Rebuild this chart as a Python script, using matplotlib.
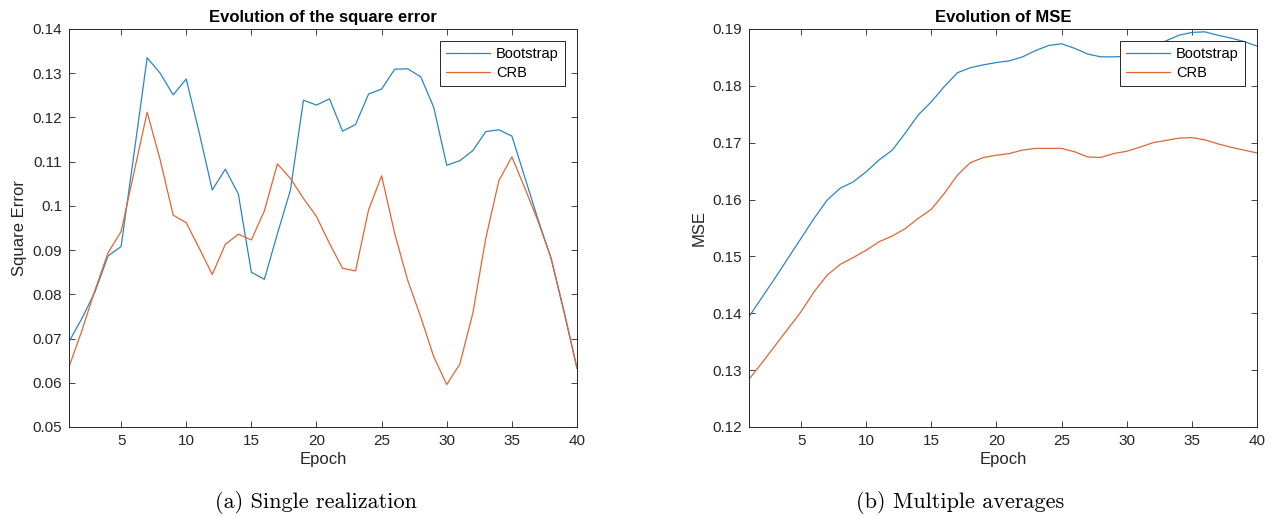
import matplotlib
matplotlib.use("Agg")
import matplotlib.pyplot as plt
from matplotlib.ticker import FormatStrFormatter

epochs = list(range(1, 41))

sq_boot = [0.0693, 0.0746, 0.0806, 0.0887, 0.0908, 0.1120, 0.1335, 0.1300, 0.1251, 0.1287,
           0.1165, 0.1036, 0.1083, 0.1027, 0.0850, 0.0834, 0.0937, 0.1036, 0.1239, 0.1228,
           0.1242, 0.1169, 0.1184, 0.1253, 0.1264, 0.1309, 0.1310, 0.1292, 0.1223, 0.1092,
           0.1102, 0.1125, 0.1168, 0.1172, 0.1158, 0.1064, 0.0970, 0.0882, 0.0760, 0.0633]
sq_crb = [0.0636, 0.0719, 0.0810, 0.0894, 0.0942, 0.1077, 0.1212, 0.1104, 0.0979, 0.0962,
          0.0904, 0.0845, 0.0913, 0.0936, 0.0923, 0.0989, 0.1095, 0.1062, 0.1017, 0.0976,
          0.0915, 0.0859, 0.0853, 0.0991, 0.1068, 0.0938, 0.0832, 0.0749, 0.0659, 0.0596,
          0.0642, 0.0757, 0.0927, 0.1057, 0.1111, 0.1040, 0.0966, 0.0883, 0.0763, 0.0633]

mse_boot = [0.1394, 0.1428, 0.1462, 0.1497, 0.1532, 0.1567, 0.1599, 0.1620, 0.1631, 0.1649,
            0.1670, 0.1687, 0.1717, 0.1749, 0.1772, 0.1799, 0.1823, 0.1832, 0.1837, 0.1841,
            0.1844, 0.1851, 0.1862, 0.1871, 0.1874, 0.1866, 0.1856, 0.1851, 0.1851, 0.1852,
            0.1858, 0.1868, 0.1879, 0.1889, 0.1894, 0.1895, 0.1889, 0.1884, 0.1878, 0.1870]
mse_crb = [0.1284, 0.1313, 0.1343, 0.1373, 0.1403, 0.1438, 0.1467, 0.1486, 0.1498, 0.1511,
           0.1526, 0.1536, 0.1549, 0.1567, 0.1583, 0.1611, 0.1643, 0.1665, 0.1674, 0.1678,
           0.1681, 0.1687, 0.1690, 0.1690, 0.1690, 0.1684, 0.1675, 0.1674, 0.1681, 0.1685,
           0.1692, 0.1700, 0.1704, 0.1708, 0.1709, 0.1705, 0.1698, 0.1692, 0.1687, 0.1682]

labels = ["Bootstrap", "CRB"]
colors = ["#2a86c4", "#e06634"]

plt.rcParams['font.family'] = ['Liberation Sans', 'DejaVu Sans']
dark = "#262626"

fig = plt.figure(figsize=(12.76, 5.16), dpi=100)
ax1 = fig.add_axes([69 / 1276, 89 / 516, 508 / 1276, 398 / 516])
ax2 = fig.add_axes([749 / 1276, 89 / 516, 508 / 1276, 398 / 516])


def style(ax, ylim, yticks, title, ylabel):
    ax.set_xlim(1, 40)
    ax.set_ylim(*ylim)
    ax.set_xticks(range(5, 41, 5))
    ax.set_yticks(yticks)
    ax.yaxis.set_major_formatter(FormatStrFormatter('%g'))
    ax.tick_params(direction='in', length=4, width=0.6, top=True, right=True,
                   labelsize=11, colors=dark, pad=5)
    for s in ax.spines.values():
        s.set_color(dark)
        s.set_linewidth(0.7)
    ax.set_title(title, fontsize=12, fontweight='bold', color='black', pad=5)
    ax.set_xlabel("Epoch", fontsize=12, color=dark, labelpad=3)
    ax.set_ylabel(ylabel, fontsize=12, color=dark, labelpad=4)
    leg = ax.legend(loc='upper right', fontsize=10.5, fancybox=False, framealpha=1,
                    edgecolor=dark, borderaxespad=0.8, handlelength=3.0,
                    borderpad=0.45, labelspacing=0.3, handletextpad=0.4)
    leg.get_frame().set_linewidth(0.7)


ax1.plot(epochs, sq_boot, color=colors[0], lw=0.9, label=labels[0])
ax1.plot(epochs, sq_crb, color=colors[1], lw=0.9, label=labels[1])
style(ax1, (0.05, 0.14), [0.05 + 0.01 * i for i in range(10)],
      "Evolution of the square error", "Square Error")

ax2.plot(epochs, mse_boot, color=colors[0], lw=0.9, label=labels[0])
ax2.plot(epochs, mse_crb, color=colors[1], lw=0.9, label=labels[1])
style(ax2, (0.12, 0.19), [0.12 + 0.01 * i for i in range(8)],
      "Evolution of MSE", "MSE")

fig.text(316 / 1276, 1 - 503 / 516, "(a) Single realization", fontfamily='cmr10',
         fontsize=16, ha='center', va='center')
fig.text(960 / 1276, 1 - 503 / 516, "(b) Multiple averages", fontfamily='cmr10',
         fontsize=16, ha='center', va='center')

fig.savefig("out.png", dpi=100)
